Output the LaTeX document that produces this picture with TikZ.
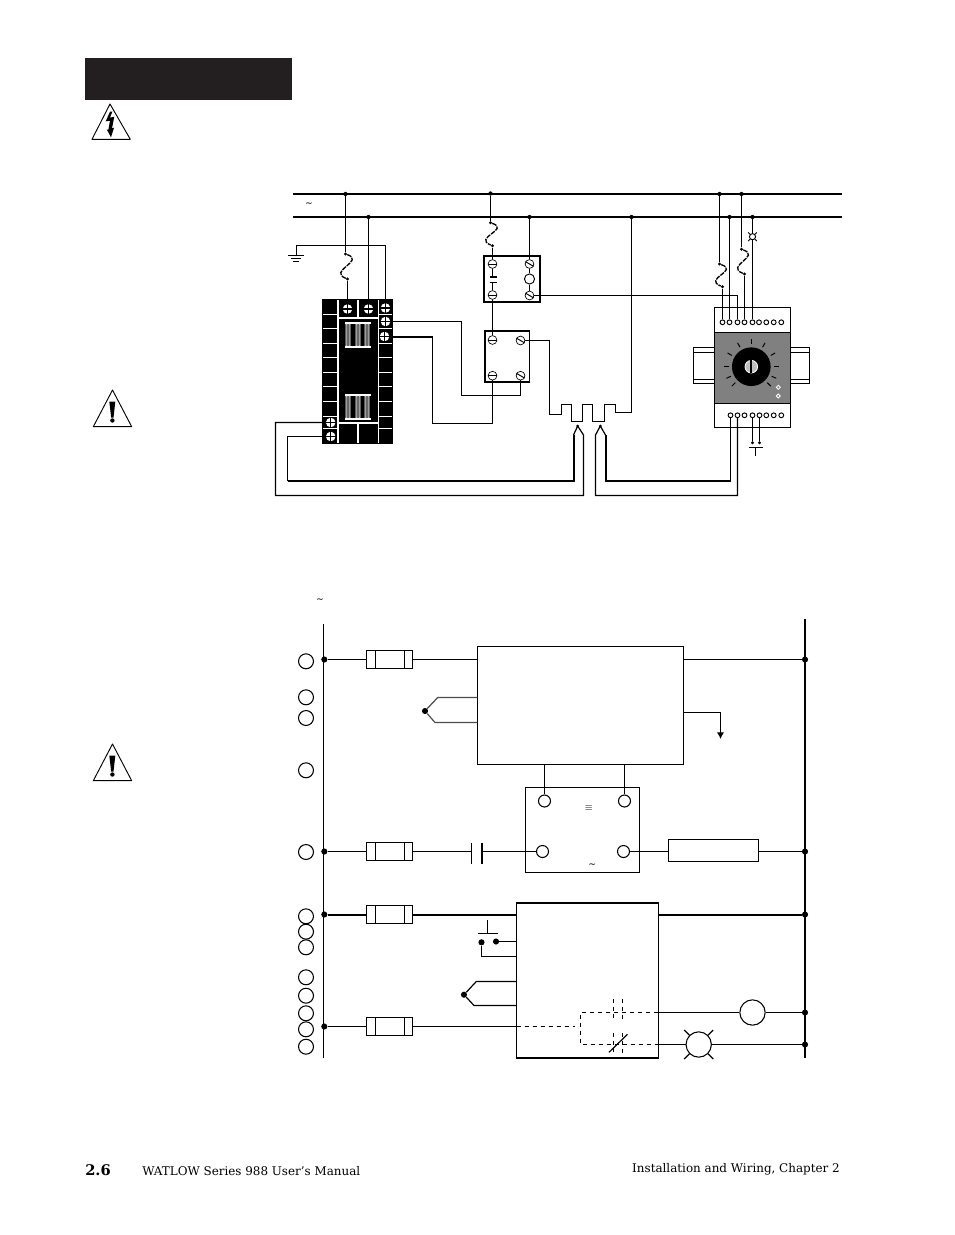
\documentclass[tikz,border=0pt]{standalone}
\usepackage{fontspec}
\setmainfont{DejaVu Serif}
\usetikzlibrary{arrows.meta}

\definecolor{headbar}{RGB}{35,31,32}

\tikzset{
  wire/.style={line width=0.9pt},
  fat/.style={line width=1.5pt},
  bus/.style={line width=1.9pt},
  fusecurve/.style={line width=1pt,dash pattern=on 3.5pt off 0.8pt},
  dot/.style={circle,fill=black,inner sep=0pt,minimum size=3.2pt},
  smalldot/.style={circle,fill=black,inner sep=0pt,minimum size=2.4pt},
  bigdot/.style={circle,fill=black,inner sep=0pt,minimum size=4.6pt},
  box/.style={draw=black,line width=0.9pt,fill=white,inner sep=0pt,outer sep=0pt},
  screw/.style={circle,draw=black,line width=0.5pt,fill=white,inner sep=0pt,minimum size=6.6pt},
  screwbk/.style={circle,fill=white,inner sep=0pt,minimum size=7.2pt},
  pin/.style={circle,draw=black,line width=0.7pt,fill=white,inner sep=0pt,minimum size=3.6pt},
  port/.style={circle,draw=black,line width=0.8pt,fill=white,inner sep=0pt,minimum size=11.2pt},
  label/.style={inner sep=0pt,font=\fontsize{8.95}{10}\selectfont},
  tinymark/.style={inner sep=0pt,font=\fontsize{7}{7}\selectfont}
}

\begin{document}
\begin{tikzpicture}[x=0.75pt,y=-0.75pt]
  \useasboundingbox (0,0) rectangle (954,1235);
  \def\u{0.75pt};

  %page heading
  \fill[headbar] (85,58.3) rectangle (291.7,100);
  \draw[line width=0.7pt,line join=round] (110,104) -- (92,139.3) -- (130.3,139.3) -- cycle;
  \fill (110,111.7) -- (105.7,121.3) -- (110,120.7) -- (108.3,130) -- (106.7,129.3) -- (111,137.3)
     -- (114,127.7) -- (112,128.3) -- (114.3,116.7) -- (110,117.7) -- (112.3,111.7) -- cycle;

  %warning signs
  \foreach \t in {390,744}{
    \draw[line width=0.7pt,line join=round] (112.5,\t) -- (93.3,\t+36.7) -- (131.7,\t+36.7) -- cycle;
    \fill (109.3,\t+11.7) -- (115.3,\t+11.7) -- (113.5,\t+27.7) -- (111.2,\t+27.7) -- cycle;
    \fill (112.4,\t+30.5) circle[radius=2.2];
  }

  %boxes of the upper drawing
  \node[box,fill=black,minimum width=69*\u,minimum height=143*\u] (blk) at (357.5,371.5) {};
  \node[box,minimum width=56*\u,minimum height=46*\u] (ctrA) at (512,279) {};
  \node[box,minimum width=44.5*\u,minimum height=51*\u] (ctrB) at (507.2,356.5) {};

  %din rails, behind the controller
  \draw[wire] (693.5,347.5) rectangle (714.3,383.5);
  \draw[wire] (693.5,352.5) -- (714.3,352.5) (693.5,379.5) -- (714.3,379.5);
  \draw[wire] (790.7,347.5) rectangle (809.5,383.5);
  \draw[wire] (790.7,352.5) -- (809.5,352.5) (790.7,379.5) -- (809.5,379.5);
  \node[box,minimum width=76.4*\u,minimum height=120.4*\u] (din) at (752.5,367.5) {};
  \node[box,fill=black!50,minimum width=76.4*\u,minimum height=70.6*\u] (panel) at (752.5,368) {};

  %white grid of the block
  \foreach \y in {314.5,328.5,343.5,357.5,372.5,386.5,401.5,416.5,428.5}{
    \draw[white,wire] (323,\y) -- (338,\y);
    \draw[white,wire] (378.5,\y) -- (392,\y);
  }
  \draw[white,wire] (338,300) -- (338,443);
  \draw[white,wire] (378.5,300) -- (378.5,443);
  \draw[white,wire] (338,318) -- (378.5,318);
  \draw[white,wire] (338,423) -- (378.5,423);
  \draw[white,wire] (358,300) -- (358,318);
  \draw[white,wire] (358,423) -- (358,443);

  %coils in the block
  \foreach \t in {323,395}{
    \foreach \x in {348,358,367}{
      \draw[white,line width=0.6pt,fill=black!60,rounded corners=1pt] (\x-2,\t) rectangle (\x+2,\t+24);
    }
    \draw[white,wire] (345,\t) -- (371,\t);
    \draw[white,wire] (345,\t+24) -- (371,\t+24);
  }

  %block terminals
  \foreach \x/\y/\name in {347.5/309/sa,368.5/309/sb,385.5/308/sc,385.5/321.5/sd,384.5/336.5/se,330.7/422.5/sf,330.7/436.5/sg}{
    \node[screwbk] (\name) at (\x,\y) {};
    \draw[line width=1pt] (\name.north) -- (\name.south);
    \draw[line width=1pt] (\name.west) -- (\name.east);
  }

  %contactor terminals
  \foreach \x/\y/\name in {492.5/264/qa,492.5/295/qb,492.5/340/qe,492.5/375.7/qg}{
    \node[screw] (\name) at (\x,\y) {};
    \draw[line width=0.7pt] (\name.west) -- (\name.east);
  }
  \foreach \x/\y/\name in {529.5/264/qc,529.5/295.5/qd,520.5/340.5/qf,520.5/375.7/qh}{
    \node[screw] (\name) at (\x,\y) {};
    \draw[line width=0.7pt] (\name.150) -- (\name.330);
  }
  \node[circle,draw=black,line width=0.7pt,inner sep=0pt,minimum size=7.6pt] (coil) at (529.5,279) {};

  %controller pins
  \foreach \x/\name in {722.5/ta,729.5/tb,737.5/tc,744.5/td,752.5/te,759/tf,766.3/tg,773.7/th,781.3/ti}{
    \node[pin] (\name) at (\x,322.3) {};
  }
  \foreach \x/\name in {730.5/ua,737.5/ub,744.5/uc,752.5/ud,759.5/ue,766.3/uf,773.7/ug,781.3/uh}{
    \node[pin] (\name) at (\x,415.3) {};
  }

  %knob
  \node[circle,fill=black,inner sep=0pt,minimum size=29pt] (knob) at (751.3,366.7) {};
  \foreach \a in {-90,-60,-30,0,25,45,-120,-150,180,155,135}{
    \draw[line width=0.7pt] (knob.center) ++(\a:22.5) -- ++(\a:5);
  }
  \fill[black!25] (knob.center) circle[radius=6.3];
  \draw[white,line width=0.6pt] (knob.center) circle[radius=6.3];
  \fill (750.2,360.4) rectangle (752.4,373);
  \foreach \y in {387.3,396}{
    \draw[white,line width=0.6pt,fill=black!50] (776.3,\y) -- (778.3,\y-2) -- (780.3,\y) -- (778.3,\y+2) -- cycle;
  }

  %dots of the upper drawing
  \foreach \x/\y/\name in {345.5/194/ja,368.5/217/jb,490.5/193.5/jc,529.5/217/jd,631.5/217/je,719.5/194/jf,729.5/217/jg,741.5/194/jh,752.5/217/ji}{
    \node[dot] (\name) at (\x,\y) {};
  }
  \foreach \x/\y/\name in {345.5/254/fa,347.5/279/fb,490.5/222.7/fc,492.5/245.7/fd,719.5/264/fe,722.5/286.7/ff,741.5/249.3/fg,744.5/274/fh,752.5/442.7/ga,759.5/442.7/gb}{
    \node[smalldot] (\name) at (\x,\y) {};
  }

  %points where wires bend
  \foreach \x/\y/\name in {293/194/busAl,842/194/busAr,293/217/busBl,842/217/busBr,
      385.5/245.5/wa,296.5/245.5/wb,296.5/255.5/wc,461.5/321.5/wd,461.5/395.5/we,520.5/395.5/wf,
      432.5/336.5/wg,432.5/423.5/wh,492.5/423.5/wi,549.5/340.5/wj,549.5/414.5/wk,561.5/414.5/wl,
      561.5/404.5/hs,571.5/404.5/ht,571.5/421.5/hu,582.5/421.5/hv,582.5/404.5/hw,592.5/404.5/hx,
      592.5/421.5/hy,604.5/421.5/hz,604.5/404.5/ka,615.5/404.5/kb,615.5/412.5/kc,631.5/412.5/kd,
      737.5/295.5/le,573.5/481/ma,287.5/481/mb,287.5/436.5/mc,583.5/495.5/md,275.5/495.5/me,275.5/422.5/mf,
      595.5/495.5/na,737.5/495.5/nb,605.5/481/nc,730.5/481/nd,
      577.7/426/pa,573.5/435/pb,583.5/435/pc,600.3/426/pd,595.5/435/pe,605.5/435/pf}{
    \coordinate (\name) at (\x,\y);
  }

  %supply
  \draw[bus] (busAl) -- (busAr);
  \draw[bus] (busBl) -- (busBr);
  \node[tinymark] (acA) at (309,205) {\textasciitilde};

  %fused wires
  \draw[wire] (ja) -- (fa);
  \draw[fusecurve] (fa) .. controls +(20,7) and +(-20,-8) .. (fb);
  \draw[wire] (fb) -- (sa);
  \draw[wire] (jb) -- (sb);
  \draw[wire] (jc) -- (fc);
  \draw[fusecurve] (fc) .. controls +(20,7) and +(-20,-8) .. (fd);
  \draw[wire] (fd) -- (qa);
  \draw[wire] (jd) -- (qc);
  \draw[wire] (jf) -- (fe);
  \draw[fusecurve] (fe) .. controls +(20,7) and +(-20,-8) .. (ff);
  \draw[wire] (ff) -- (ta);
  \draw[wire] (jg) -- (tb);
  \draw[wire] (jh) -- (fg);
  \draw[fusecurve] (fg) .. controls +(20,7) and +(-20,-8) .. (fh);
  \draw[wire] (fh) -- (td);
  \draw[wire] (ji) -- (te);

  %small lamp on the supply
  \node[circle,draw=black,line width=0.7pt,fill=white,inner sep=0pt,minimum size=4.6pt] (lampA) at (752.5,236.7) {};
  \foreach \a in {45,135,225,315}{
    \draw[line width=0.7pt] (lampA.\a) -- ++(\a:1.9pt);
  }

  %ground
  \draw[wire] (sc) -- (wa) -- (wb) -- (wc);
  \draw[wire] (288,255.5) -- (304,255.5);
  \draw[wire] (291,258.5) -- (301,258.5);
  \draw[wire] (293,261.5) -- (299,261.5);

  %contactor inside
  \draw[wire] (qa) -- (492.5,277);
  \draw[line width=1.3pt] (489.5,277) -- (496.5,277);
  \draw[wire] (489.5,282.5) -- (496.5,282.5);
  \draw[wire] (492.5,282.5) -- (qb);
  \draw[wire] (qc) -- (coil);
  \draw[wire] (coil) -- (qd);

  %wires between the boxes
  \draw[wire] (qb) -- (qe);
  \draw[wire] (sd) -- (wd) -- (we) -- (wf) -- (qh);
  \draw[fat] (se) -- (wg);
  \draw[wire] (wg) -- (wh) -- (wi) -- (qg);
  \draw[wire] (qd) -- (le) -- (tc);

  %heater
  \draw[wire] (qf) -- (wj) -- (wk) -- (wl) -- (hs) -- (ht) -- (hu) -- (hv) -- (hw) -- (hx) -- (hy) -- (hz) -- (ka) -- (kb) -- (kc) -- (kd) -- (je);

  %thermocouple wires
  \draw[wire] (pa) -- (pb);
  \draw[fat] (pb) -- (ma) -- (mb);
  \draw[wire] (mb) -- (mc) -- (sg);
  \draw[wire] (pa) -- (pc) -- (md) -- (me) -- (mf) -- (sf);
  \draw[wire] (pd) -- (pe) -- (na) -- (nb) -- (ub);
  \draw[wire] (pd) -- (pf);
  \draw[fat] (pf) -- (nc) -- (nd);
  \draw[wire] (nd) -- (ua);
  \fill (pa) circle[radius=1.5];
  \fill (pd) circle[radius=1.5];

  %controller lower pins
  \draw[wire] (ud) -- (ga);
  \draw[wire] (ue) -- (gb);
  \draw[wire] (749.3,447.5) -- (762.7,447.5);
  \draw[wire] (755.5,447.5) -- (755.5,455.7);

  %lower drawing
  \node[tinymark] (acB) at (320,601) {\textasciitilde};
  \foreach \y/\name in {661.3/ca,697.3/cb,718/cc,770.3/cd,852/ce,916.3/cf,931.7/cg,947.3/ch,977.3/ci,995.7/cj,1013.3/ck,1029.3/cl,1046.7/cm}{
    \node[port] (\name) at (306,\y) {};
  }

  %rails
  \coordinate (railLa) at (323.5,624);
  \coordinate (railLb) at (323.5,1058);
  \coordinate (railRa) at (805,619);
  \coordinate (railRb) at (805,1058);
  \draw[wire] (railLa) -- (railLb);
  \draw[bus] (railRa) -- (railRb);
  \foreach \y/\name in {659.5/la,851.5/lb,914.5/lc,1026.5/ld}{
    \node[bigdot] (\name) at (324.3,\y) {};
  }
  \foreach \y/\name in {659.5/ra,851.5/rb,914.5/rc,1012.5/re,1044.5/rf}{
    \node[bigdot] (\name) at (805,\y) {};
  }

  %fuses
  \foreach \y/\name in {659.5/fua,851.5/fub,914.5/fuc,1026.5/fud}{
    \node[box,minimum width=46.4*\u,minimum height=18*\u] (\name) at (389.5,\y) {};
    \draw[wire] ([xshift=6.8pt]\name.north west) -- ([xshift=6.8pt]\name.south west);
    \draw[wire] ([xshift=-6.3pt]\name.north east) -- ([xshift=-6.3pt]\name.south east);
  }

  %boxes of the lower drawing
  \node[box,minimum width=206.4*\u,minimum height=118*\u] (ctrl) at (580.5,705.3) {};
  \node[box,minimum width=114.4*\u,minimum height=85*\u] (psu) at (582.5,829.8) {};
  \node[box,minimum width=90.2*\u,minimum height=22*\u] (load) at (713.4,850.5) {};
  \node[box,line width=1.4pt,minimum width=141.9*\u,minimum height=155*\u] (relay) at (587.5,980.5) {};
  \node[port,minimum size=9pt] (pua) at (544.5,801) {};
  \node[port,minimum size=9pt] (pub) at (624.5,801) {};
  \node[port,minimum size=9pt] (puc) at (542.5,851.5) {};
  \node[port,minimum size=9pt] (pud) at (623.5,851.5) {};
  \node[tinymark] (dcmark) at (588.8,808.5) {$\equiv$};
  \node[tinymark] (acC) at (592.3,866) {\textasciitilde};

  %first row
  \draw[wire] (la) -- (fua);
  \draw[wire] (fua) -- (fua -| ctrl.west);
  \draw[wire] (ctrl.east |- ra) -- (ra);
  \node[bigdot] (tca) at (425,711) {};
  \coordinate (tcb) at (437.7,697.5);
  \coordinate (tcc) at (435,722.5);
  \draw[wire,black!70] (tca) -- (tcb) -- (tcb -| ctrl.west);
  \draw[wire,black!70] (tca) -- (tcc) -- (tcc -| ctrl.west);
  \coordinate (outa) at (720.5,712.5);
  \coordinate (outb) at (720.5,739);
  \draw[wire,-{Latex[length=5pt,width=5.5pt]}] (outa -| ctrl.east) -- (outa) -- (outb);
  \draw[wire] (pua) -- (pua |- ctrl.south);
  \draw[wire] (pub) -- (pub |- ctrl.south);

  %second row
  \coordinate (capa) at (471.5,851.5);
  \coordinate (capb) at (481.5,851.5);
  \draw[wire] (lb) -- (fub);
  \draw[wire] (fub) -- (capa);
  \draw[wire] (471.5,843.3) -- (471.5,864);
  \draw[fat] (481.5,843.3) -- (481.5,864);
  \draw[wire] (capb) -- (puc);
  \draw[wire] (pud) -- (pud -| load.west);
  \draw[wire] (load.east |- rb) -- (rb);

  %third row
  \draw[fat] (lc) -- (fuc);
  \draw[fat] (fuc) -- (fuc -| relay.west);
  \draw[fat] (relay.east |- rc) -- (rc);

  %push button
  \draw[wire] (487.5,920) -- (487.5,933.5);
  \draw[wire] (477.7,933.5) -- (497.6,933.5);
  \node[bigdot] (pba) at (481.5,942.3) {};
  \node[bigdot] (pbb) at (496,941.5) {};
  \coordinate (pbc) at (481.5,956.5);
  \draw[wire] (pbb) -- (pbb -| relay.west);
  \draw[wire] (pba) -- (pbc) -- (pbc -| relay.west);

  %second thermocouple
  \node[bigdot] (tcd) at (464,994.7) {};
  \coordinate (tce) at (476.3,981.5);
  \coordinate (tcf) at (474,1005.5);
  \draw[wire] (tcd) -- (tce) -- (tce -| relay.west);
  \draw[wire] (tcd) -- (tcf) -- (tcf -| relay.west);

  %fourth row
  \draw[wire] (ld) -- (fud);
  \draw[wire] (fud) -- (fud -| relay.west);

  %relay contacts
  \coordinate (dsa) at (574.5,1026.5);
  \draw[wire,dashed] (relay.west |- ld) -- (dsa);
  \draw[wire,dashed] (658.4,1012.5) -- (580.5,1012.5) -- (580.5,1044.5) -- (658.4,1044.5);
  \draw[line width=1.4pt,dash pattern=on 3pt off 2.5pt] (613.5,999.3) -- (613.5,1020);
  \draw[wire,dashed] (622.5,999.3) -- (622.5,1020);
  \draw[line width=1.4pt,dash pattern=on 3pt off 2.5pt] (613.5,1033.3) -- (613.5,1053.3);
  \draw[wire,dashed] (622.5,1033.3) -- (622.5,1053.3);
  \draw[wire] (609,1052.3) -- (627.5,1034.3);

  %coil and lamp on the right
  \node[circle,draw=black,line width=0.8pt,fill=white,inner sep=0pt,minimum size=19pt] (rcoil) at (752.5,1012.5) {};
  \node[circle,draw=black,line width=0.8pt,fill=white,inner sep=0pt,minimum size=19pt] (lampB) at (698.7,1044.5) {};
  \draw[wire] (relay.east |- rcoil) -- (rcoil);
  \draw[wire] (rcoil) -- (re);
  \draw[wire] (relay.east |- lampB) -- (lampB);
  \draw[wire] (lampB) -- (rf);
  \foreach \a in {45,135,225,315}{
    \draw[wire] (lampB.\a) -- ++(\a:5.5pt);
  }

  %footer
  \node[inner sep=0pt,anchor=base west,font=\fontsize{11}{12}\selectfont\bfseries] (page) at (85,1175) {2.6};
  \node[label,anchor=base west] (book) at (142,1175) {WATLOW Series 988 User's Manual};
  \node[label,anchor=base east] (chap) at (840,1172) {Installation and Wiring, Chapter 2};

\end{tikzpicture}
\end{document}
